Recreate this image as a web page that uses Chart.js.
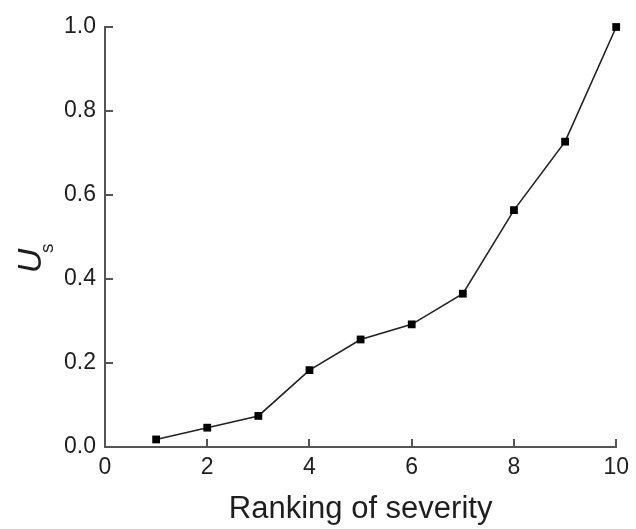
<!DOCTYPE html>
<html>

<head>
    <title>Us vs ranking of severity</title>
    <script src="https://cdn.jsdelivr.net/npm/chart.js"></script>
    <style>
        body {
            margin: 0;
            background: #fff;
            font-family: "Liberation Sans", Arial, Helvetica, sans-serif;
        }

        .chart-wrap {
            width: 636px;
            height: 529px;
        }
    </style>
</head>

<body>
    <div class="chart-wrap"><canvas id="myChart"></canvas></div>

    <script>
        // data
        const rankings = [1, 2, 3, 4, 5, 6, 7, 8, 9, 10];
        const usValues = [0.018, 0.046, 0.074, 0.183, 0.256, 0.292, 0.365, 0.564, 0.727, 1.0];
        const xTicks = [0, 2, 4, 6, 8, 10];
        const yTicks = [0.0, 0.2, 0.4, 0.6, 0.8, 1.0];

        const axisColor = '#555';
        const textColor = '#1e1e1e';

        Chart.defaults.font.family = '"Liberation Sans", Arial, sans-serif';
        Chart.defaults.color = textColor;

        // ticks point into the plot area, so draw them by hand
        const inwardTicks = {
            id: 'inwardTicks',
            afterDraw(chart) {
                const { ctx, scales: { x, y } } = chart;
                const len = 8;
                ctx.save();
                ctx.strokeStyle = axisColor;
                ctx.lineWidth = 2;
                ctx.beginPath();
                xTicks.forEach(v => {
                    const px = Math.round(x.getPixelForValue(v));
                    ctx.moveTo(px, y.bottom);
                    ctx.lineTo(px, y.bottom - len);
                });
                yTicks.forEach(v => {
                    const py = Math.round(y.getPixelForValue(v));
                    ctx.moveTo(x.left, py);
                    ctx.lineTo(x.left + len, py);
                });
                ctx.stroke();
                ctx.restore();
            }
        };

        // y title "U" with subscript "s", rotated
        const yTitle = {
            id: 'yTitle',
            afterDraw(chart) {
                const { ctx, chartArea } = chart;
                const cx = 30;
                const cy = chartArea.top + (chartArea.bottom - chartArea.top) * 0.55;
                ctx.save();
                ctx.translate(cx, cy);
                ctx.rotate(-Math.PI / 2);
                ctx.fillStyle = textColor;
                ctx.textBaseline = 'alphabetic';
                ctx.font = 'italic 34px "Liberation Sans", Arial, sans-serif';
                const uw = ctx.measureText('U').width;
                ctx.fillText('U', -uw / 2 - 3, 11);
                ctx.font = '19px "Liberation Sans", Arial, sans-serif';
                ctx.fillText('s', 5, 23);
                ctx.restore();
            }
        };

        const points = rankings.map((r, i) => ({ x: r, y: usValues[i] }));

        new Chart(document.getElementById('myChart'), {
            type: 'line',
            data: {
                datasets: [{
                    label: 'Us',
                    data: points,
                    borderColor: '#222',
                    borderWidth: 1.6,
                    backgroundColor: '#000',
                    pointStyle: 'rect',
                    pointRadius: 5.5,
                    pointBorderWidth: 0,
                    pointBackgroundColor: '#000',
                    tension: 0,
                    fill: false,
                    clip: false,
                }]
            },
            options: {
                responsive: true,
                maintainAspectRatio: false,
                animation: false,
                layout: {
                    padding: { top: 27, right: 18, left: 0, bottom: 0 }
                },
                scales: {
                    x: {
                        type: 'linear',
                        min: 0,
                        max: 10,
                        afterFit: (scale) => { scale.height = 82; },
                        afterBuildTicks: (scale) => { scale.ticks = xTicks.map(v => ({ value: v })); },
                        border: { display: true, color: axisColor, width: 2 },
                        grid: { display: true, drawOnChartArea: false, drawTicks: false },
                        ticks: {
                            padding: 7,
                            color: textColor,
                            font: { size: 23 },
                        },
                        title: {
                            display: true,
                            text: 'Ranking of severity',
                            color: textColor,
                            font: { size: 31 },
                            padding: { top: 0, bottom: 1 },
                        }
                    },
                    y: {
                        min: 0,
                        max: 1,
                        afterFit: (scale) => { scale.width = 105; },
                        afterBuildTicks: (scale) => { scale.ticks = yTicks.map(v => ({ value: v })); },
                        border: { display: true, color: axisColor, width: 2 },
                        grid: { display: true, drawOnChartArea: false, drawTicks: false },
                        ticks: {
                            padding: 9,
                            color: textColor,
                            font: { size: 23 },
                            callback: (v) => Number(v).toFixed(1),
                        }
                    }
                },
                plugins: {
                    legend: { display: false },
                    tooltip: { enabled: false },
                }
            },
            plugins: [inwardTicks, yTitle]
        });
    </script>
</body>

</html>
